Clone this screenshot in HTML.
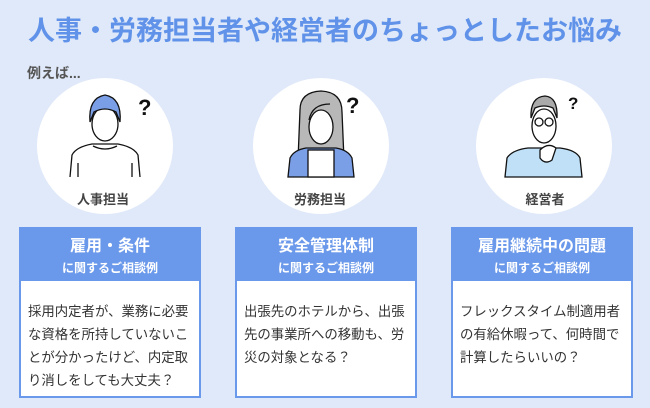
<!DOCTYPE html>
<html><head><meta charset="utf-8"><style>
*{margin:0;padding:0;box-sizing:border-box}
body{width:650px;height:408px;background:#e0e9f9;font-family:"Liberation Sans","Noto Sans CJK JP",sans-serif;position:relative;overflow:hidden}
.t{position:absolute;left:0;width:650px;top:9px;text-align:center;font-size:27px;font-weight:bold;color:#5f92e8;letter-spacing:0}
.ex{position:absolute;left:27px;top:63px;font-size:14px;font-weight:bold;color:#555}
.box{position:absolute;top:227px;width:182px;height:171px;border:2px solid #6a98ea;background:#fff}
.hd{background:#6a98ea;height:52px;color:#fff;text-align:center;font-weight:bold}
.hd .a{font-size:16px;padding-top:7px;line-height:22px}
.hd .b{font-size:12px;line-height:20px}
.bd{padding:19px 0 0 7px;font-size:13.4px;line-height:23px;color:#333;white-space:nowrap}
svg{position:absolute;left:0;top:0}
.lb{font-size:13px;fill:#444;font-weight:bold}
</style></head><body>
<div class="t">人事・労務担当者や経営者のちょっとしたお悩み</div>
<div class="ex">例えば...</div>
<svg width="650" height="220">
<g stroke="#111" stroke-width="1.3" fill="none">
<circle cx="105" cy="146" r="68" fill="#fff" stroke="none"/>
<circle cx="321" cy="146" r="68" fill="#fff" stroke="none"/>
<circle cx="544" cy="146" r="68" fill="#fff" stroke="none"/>
<path d="M70 177 L72 155 Q76 147 92 144 L118 144 Q134 147 138 155 L140 177" fill="#fff"/>
<path d="M93 146 Q105 152 117 146"/>
<ellipse cx="105" cy="124" rx="13" ry="17" fill="#fff"/>
<path d="M90 122 Q88 98 105 95 Q122 98 120 122 L116 112 Q105 106 94 112 Z" fill="#7b9fe6"/>
<path d="M78 163 L78 177 M132 163 L132 177"/>
<text x="138" y="115" font-size="22" font-weight="bold" fill="#111" stroke="none" font-family="Liberation Sans">?</text>
<path d="M300 110 Q300 92 321 91 Q342 92 342 112 L344 160 L298 160 Z" fill="#b8b8b8"/>
<path d="M288 177 L290 158 Q294 150 306 148 L336 148 Q348 150 352 158 L354 177 Z" fill="#7b9fe6"/>
<rect x="308" y="150" width="26" height="27" fill="#fff"/>
<ellipse cx="321" cy="127" rx="12" ry="17" fill="#fff"/>
<path d="M309 120 Q312 104 330 104" />
<text x="346" y="113" font-size="22" font-weight="bold" fill="#111" stroke="none" font-family="Liberation Sans">?</text>
<path d="M505 177 L507 158 Q512 150 528 148 L560 148 Q576 150 580 158 L582 177 Z" fill="#bfe0f7"/>
<ellipse cx="544" cy="126" rx="12" ry="17" fill="#fff"/>
<path d="M531 118 Q530 97 545 96 Q558 97 557 118 L553 108 Q544 104 535 108 Z" fill="#aaa"/>
<circle cx="539" cy="122" r="4"/><circle cx="549" cy="122" r="4"/>
<path d="M540 150 Q548 142 556 148 L552 160 Q545 165 540 158 Z" fill="#fff"/>
<text x="568" y="109" font-size="17" font-weight="bold" fill="#111" stroke="none" font-family="Liberation Sans">?</text>
</g>
<text class="lb" x="103" y="204" text-anchor="middle">人事担当</text>
<text class="lb" x="320" y="204" text-anchor="middle">労務担当</text>
<text class="lb" x="545" y="204" text-anchor="middle">経営者</text>
</svg>
<div class="box" style="left:19px"><div class="hd"><div class="a">雇用・条件</div><div class="b">に関するご相談例</div></div><div class="bd">採用内定者が、業務に必要<br>な資格を所持していないこ<br>とが分かったけど、内定取<br>り消しをしても大丈夫？</div></div>
<div class="box" style="left:235px"><div class="hd"><div class="a">安全管理体制</div><div class="b">に関するご相談例</div></div><div class="bd">出張先のホテルから、出張<br>先の事業所への移動も、労<br>災の対象となる？</div></div>
<div class="box" style="left:451px"><div class="hd"><div class="a">雇用継続中の問題</div><div class="b">に関するご相談例</div></div><div class="bd">フレックスタイム制適用者<br>の有給休暇って、何時間で<br>計算したらいいの？</div></div>
</body></html>
